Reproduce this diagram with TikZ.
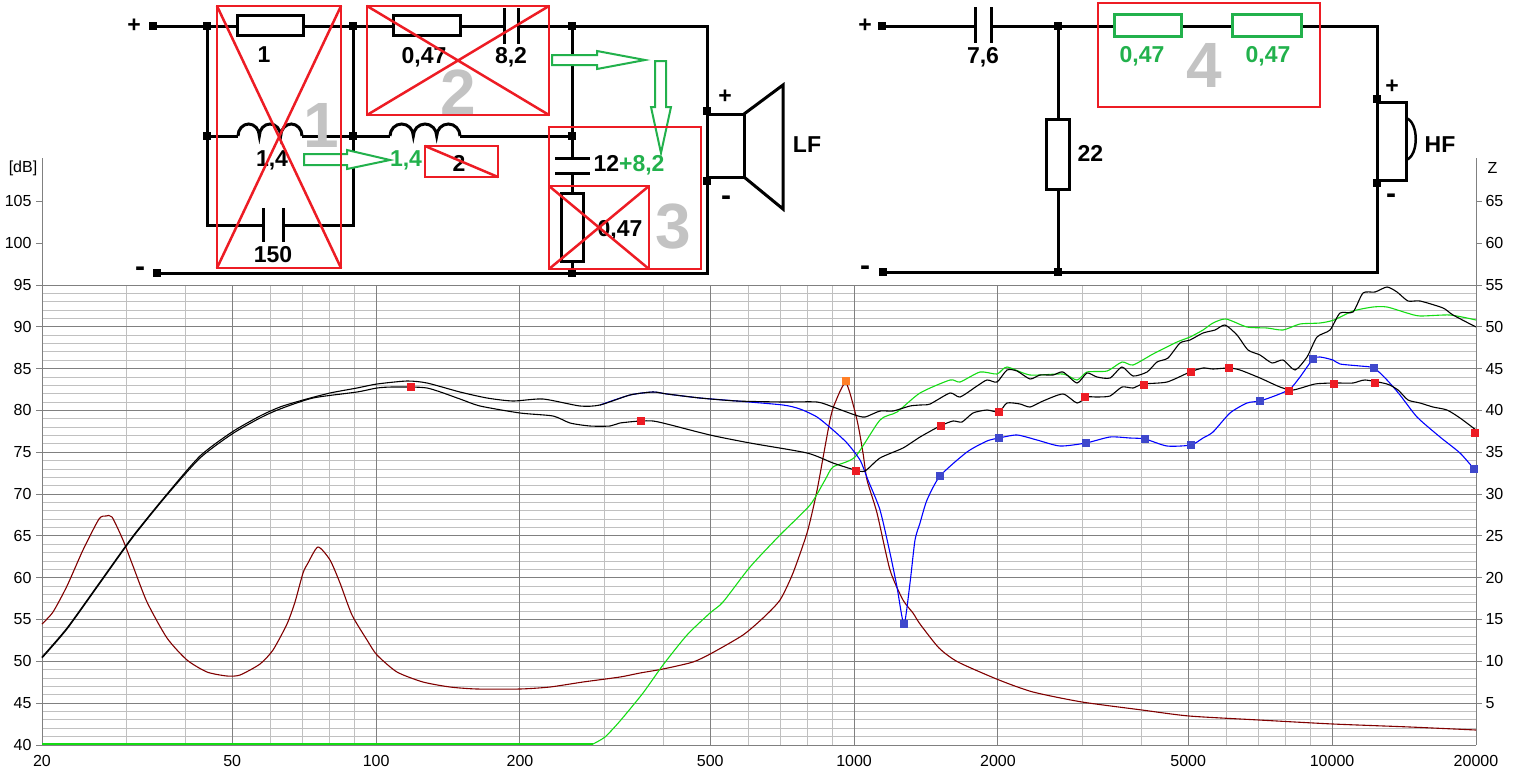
\documentclass[tikz,border=0pt]{standalone}
\usepackage{fontspec}
\setmainfont{Liberation Sans}
\definecolor{grn}{RGB}{34,177,76}
\definecolor{spl}{RGB}{20,220,20}
\definecolor{imp}{RGB}{128,0,0}
\definecolor{xred}{RGB}{237,28,36}
\definecolor{mkblue}{RGB}{63,72,204}
\definecolor{mkorange}{RGB}{255,127,39}
\definecolor{gridlight}{RGB}{192,192,192}
\definecolor{griddark}{RGB}{128,128,128}
\definecolor{numgray}{RGB}{195,195,195}
\newcommand\junc[1]{\fill (#1) +(-4,-4) rectangle +(4,4);}
\newcommand\sqmarks[2]{\foreach \x/\y in {#2} {\fill[#1] (\x-4,\y-4) rectangle ++(8,8);}}
\begin{document}
\begin{tikzpicture}[x=1pt, y=-1pt,
  wire/.style={line width=3pt},
  comp/.style={draw, line width=3pt, fill=white, inner sep=0pt},
  val/.style={font=\fontsize{23}{23}\selectfont\bfseries},
  neg/.style={font=\fontsize{30}{30}\selectfont\bfseries},
  bignum/.style={font=\fontsize{64}{64}\selectfont\bfseries, text=numgray},
  tick/.style={font=\fontsize{16}{16}\selectfont},
  cut/.style={draw=xred, line width=1.2pt},
  cross/.style={xred, line width=2.5pt},
  hollow/.style={draw=grn, line width=2pt, fill=white},
  minor/.style={gridlight, line width=1pt},
  major/.style={griddark, line width=1pt},
  curve/.style={line width=1.1pt, smooth, tension=0.4}]
\useasboundingbox (0,0) rectangle (1513,774);

\foreach \i in {1,...,54}
  \draw[minor] (42,{745-\i*8.3636}) -- (1476,{745-\i*8.3636});
\foreach \f in {30,40,60,70,80,90,300,400,600,700,800,900,3000,4000,6000,7000,8000,9000}
  \draw[minor] ({42+478*log10(\f/20)},285) -- ++(0,460);
\foreach \i in {0,5,...,55}
  \draw[major] (42,{745-\i*8.3636}) -- (1476,{745-\i*8.3636});
\foreach \f in {50,100,200,500,1000,2000,5000,10000}
  \draw[major] ({42+478*log10(\f/20)},285) -- ++(0,460);
\draw[major] (42,158) -- (42,745) (1476,158) -- (1476,745);

\foreach \v [count=\i from 0] in {40,45,...,105} {
  \draw[major] (36,{745-\i*41.818}) -- ++(6,0);
  \node[tick, anchor=east] (db\v) at (35,{745-\i*41.818}) {\v};
}
\foreach \v in {5,10,...,65} {
  \draw[major] (1476,{745-\v*8.3636}) -- ++(6,0);
  \node[tick, anchor=west] (z\v) at (1482,{745-\v*8.3636}) {\v};
}
\node[tick] (dbunit) at (23,168) {[dB]};
\node[tick, anchor=west] (zunit) at (1484,168) {Z};
\foreach \f/\k in {20/1,50/2.5,100/5,200/10,500/25,1000/50,2000/100,5000/250,10000/500,20000/1000}
  \node[tick] (f\f) at ({42+478*log10(\k)},761) {\f};

\draw[imp, curve] plot coordinates {(42,624) (53,612) (67,586) (83,550) (99,519) (106,516) (112,517) (123,540) (133,566) (147,602) (167,638) (187,660) (207,672) (227,676) (240,675) (260,664) (273,650) (287,624) (295,602) (303,573) (308,563) (318,547) (330,560) (340,583) (352,615) (367,640) (377,655) (397,672) (423,682) (450,687) (477,689) (520,689) (550,687) (583,682) (620,677) (640,673) (663,669) (693,662) (712,653) (743,635) (763,618) (780,600) (793,573) (807,533) (815,500) (819,480) (830,420) (835,403) (846,383) (857,420) (863,453) (867,480) (877,513) (890,570) (903,600) (913,613) (920,624) (939,648) (958,662) (999,680) (1033,692) (1082,702) (1142,710) (1189,716) (1259,720) (1333,724) (1410,727) (1476,730)};
\draw[spl, line width=1.3pt] (42,744) -- (593,744);
\draw[spl, curve] plot coordinates {(593,744) (605,737) (620,721) (643,693) (663,665) (687,635) (710,613) (723,602) (750,567) (780,535) (810,505) (825,480) (833,467) (855,457) (880,420) (897,412) (920,393) (950,380) (960,382) (980,372) (997,374) (1007,367) (1030,375) (1063,374) (1077,380) (1087,372) (1107,371) (1122,362) (1133,365) (1153,354) (1177,342) (1190,337) (1203,330) (1213,323) (1226,319) (1247,327) (1267,328) (1283,330) (1300,324) (1320,323) (1334,320) (1353,311) (1373,307) (1387,307) (1407,313) (1420,316) (1450,315) (1476,320)};
\draw[blue, curve] plot coordinates {(600,405) (630,395) (653,392) (667,394) (700,398) (737,401) (783,405) (800,409) (817,417) (833,430) (847,443) (860,460) (868,480) (880,510) (890,553) (897,587) (904,624) (910,583) (915,540) (920,523) (927,500) (940,476) (967,452) (987,441) (999,438) (1017,435) (1037,440) (1060,446) (1086,443) (1110,437) (1130,438) (1145,439) (1167,446) (1191,445) (1203,438) (1213,432) (1230,413) (1247,403) (1260,401) (1277,395) (1290,389) (1300,377) (1313,359) (1320,357) (1333,360) (1340,364) (1360,366) (1374,368) (1387,380) (1400,395) (1417,417) (1440,437) (1460,453) (1474,469)};
\draw[black, curve] plot coordinates {(42,658) (67,629) (100,583) (133,537) (167,495) (200,458) (232,434) (260,418) (280,409) (313,398) (357,392) (377,388) (393,387) (427,388) (460,399) (480,406) (520,413) (553,416) (570,423) (590,426) (610,426) (620,423) (640,421) (653,421) (667,424) (710,435) (750,443) (807,453) (833,463) (855,470) (865,471) (880,458) (903,448) (920,437) (940,426) (953,421) (962,422) (973,413) (987,410) (999,412) (1007,403) (1020,404) (1030,407) (1043,401) (1063,394) (1077,403) (1087,397) (1097,397) (1110,396) (1122,387) (1133,388) (1143,384) (1167,382) (1190,372) (1203,368) (1213,369) (1229,368) (1240,370) (1260,378) (1280,387) (1293,390) (1315,384) (1334,383) (1353,383) (1365,380) (1387,384) (1398,390) (1408,400) (1420,403) (1433,407) (1447,410) (1460,418) (1476,430)};
\draw[black, curve] plot coordinates {(42,657) (67,628) (100,582) (133,536) (167,494) (200,456) (232,432) (260,416) (280,407) (303,400) (330,393) (357,388) (377,384) (407,381) (427,383) (460,392) (487,398) (513,401) (543,399) (580,406) (600,405) (630,395) (653,392) (667,394) (700,398) (737,401) (783,402) (817,402) (833,407) (855,415) (865,417) (880,411) (893,411) (910,406) (920,405) (930,404) (950,393) (960,397) (977,386) (987,380) (997,382) (1007,370) (1017,371) (1030,379) (1040,375) (1053,375) (1063,372) (1077,383) (1087,373) (1097,377) (1110,378) (1122,367) (1133,376) (1147,372) (1157,362) (1168,358) (1180,343) (1190,340) (1203,333) (1215,330) (1225,325) (1237,335) (1248,350) (1260,355) (1272,363) (1283,360) (1295,370) (1307,357) (1317,337) (1330,330) (1340,313) (1353,312) (1363,293) (1375,292) (1387,287) (1397,292) (1408,301) (1420,301) (1443,308) (1453,315) (1476,327)};
\sqmarks{xred}{411/387, 641/421, 856/471, 941/426, 999/412, 1085/397, 1144/385, 1191/372, 1229/368, 1289/391, 1334/384, 1375/383, 1475/433}
\sqmarks{mkorange}{846/381}
\sqmarks{mkblue}{904/624, 940/476, 999/438, 1086/443, 1145/439, 1191/445, 1260/401, 1313/359, 1374/368, 1474/469}

\coordinate (pin) at (153,26);
\coordinate (nin) at (157,273);
\coordinate (ja) at (207,26);
\coordinate (jb) at (353,26);
\coordinate (jc) at (572,26);
\coordinate (jd) at (707,26);
\coordinate (ma) at (207,136);
\coordinate (mb) at (353,136);
\coordinate (mc) at (572,136);
\coordinate (la) at (207,225);
\coordinate (lb) at (353,225);
\coordinate (nc) at (572,273);
\coordinate (nd) at (707,273);
\coordinate (lfp) at (707,111);
\coordinate (lfm) at (707,181);
\coordinate (ca) at (504,26);
\coordinate (cb) at (518,26);
\coordinate (cc) at (263,225);
\coordinate (cd) at (283,225);
\coordinate (ce) at (572,158);
\coordinate (cf) at (572,173);
\coordinate (l1a) at (238,136);
\coordinate (l1b) at (302,136);
\coordinate (l2a) at (390,136);
\coordinate (l2b) at (460,136);

\draw[wire] (pin) -- (ca) (cb) -- (jd) -- (nd) -- (nin);
\draw[wire] (ja) -- (la) -- (cc) (cd) -- (lb) -- (jb);
\draw[wire] (ma) -- (l1a) (l1b) -- (l2a) (l2b) -- (mc);
\draw[wire] (l1a) arc[start angle=180, end angle=360, x radius=10.67, y radius=12]
  arc[start angle=180, end angle=360, x radius=10.67, y radius=12]
  arc[start angle=180, end angle=360, x radius=10.67, y radius=12];
\draw[wire] (l2a) arc[start angle=180, end angle=360, x radius=11.67, y radius=12]
  arc[start angle=180, end angle=360, x radius=11.67, y radius=12]
  arc[start angle=180, end angle=360, x radius=11.67, y radius=12];
\draw[wire] (jc) -- (ce) (cf) -- (nc);
\draw[wire] (504,8) -- (504,44) (518,8) -- (518,44);
\draw[wire] (263,208) -- (263,242) (283,208) -- (283,242);
\draw[wire] (555,158) -- (590,158) (555,173) -- (590,173);
\node[comp, minimum width=66pt, minimum height=20pt] (r1) at (270.5,25.5) {};
\node[comp, minimum width=67pt, minimum height=20pt] (r047) at (427,25.5) {};
\node[comp, minimum width=22pt, minimum height=68pt] (rsh) at (572.5,227.5) {};
\draw[wire] (707,114) -- (744,114) -- (744,177) -- (707,177);
\draw[wire] (744,114) -- (783,85) -- (783,209) -- (744,177);
\foreach \p in {pin,nin,ja,jb,jc,ma,mb,mc,nc,lfp,lfm} {\junc{\p}}

\node[val] (pinlbl) at (134,26) {+};
\node[neg] (ninlbl) at (140,272) {-};
\node[val] (r1lbl) at (264,55) {1};
\node[val] (l1lbl) at (272,160) {1,4};
\node[val] (c150lbl) at (273,255) {150};
\node[val] (r047lbl) at (424,57) {0,47};
\node[val] (c82lbl) at (511,57) {8,2};
\node[val] (l2lbl) at (459,163) {2};
\node[val, text=grn] (l2new) at (406,160) {1,4};
\node[val, anchor=west] (c12lbl) at (590,165) {12\textcolor{grn}{+8,2}};
\node[val] (rshlbl) at (620,230) {0,47};
\node[val] (lfplbl) at (725,97) {+};
\node[neg] (lfmlbl) at (726,201) {-};
\node[val] (lflbl) at (807,145) {LF};

\node[bignum] (n1) at (321,125) {1};
\node[bignum] (n2) at (458,92) {2};
\node[bignum] (n3) at (673,227) {3};
\node[bignum] (n4) at (1204,65) {4};

\draw[hollow] (304,154) -- (347,154) -- (347,150) -- (390,160) -- (347,169) -- (347,165) -- (304,165) -- cycle;
\draw[hollow] (552,55) -- (597,55) -- (597,51) -- (645,60) -- (597,69) -- (597,65) -- (552,65) -- cycle;
\draw[hollow] (655,61) -- (655,107) -- (651,107) -- (661,153) -- (671,107) -- (666,107) -- (666,61) -- cycle;

\draw[cut] (217,6) rectangle (341,268);
\draw[cross] (217,6) -- (341,268) (341,6) -- (217,268);
\draw[cut] (367,6) rectangle (549,115);
\draw[cross] (367,6) -- (549,115) (549,6) -- (367,115);
\draw[cut] (549,127) rectangle (701,269);
\draw[cut] (549,186) rectangle (649,269);
\draw[cross] (549,186) -- (649,269) (649,186) -- (549,269);
\draw[cut] (425,146) rectangle (498,177);
\draw[cross] (425,146) -- (498,177);

\coordinate (hpin) at (882,26);
\coordinate (hnin) at (883,272);
\coordinate (ea) at (1058,26);
\coordinate (eb) at (1058,272);
\coordinate (fa) at (1377,26);
\coordinate (fb) at (1377,272);
\coordinate (hfp) at (1377,99);
\coordinate (hfm) at (1377,183);
\coordinate (c76a) at (975,26);
\coordinate (c76b) at (991,26);

\draw[wire] (hpin) -- (c76a) (c76b) -- (fa) -- (fb) -- (hnin);
\draw[wire] (ea) -- (eb);
\draw[wire] (975,7) -- (975,43) (991,7) -- (991,43);
\node[comp, minimum width=23pt, minimum height=70pt] (r22) at (1057.5,154.5) {};
\node[comp, draw=grn, minimum width=67pt, minimum height=22pt] (rg1) at (1148,25.5) {};
\node[comp, draw=grn, minimum width=69pt, minimum height=22pt] (rg2) at (1267,25.5) {};
\draw[wire] (1377,102) rectangle (1406,180);
\draw[line width=2.5pt] (1406,118) .. controls (1419,122) and (1419,156) .. (1406,160);
\foreach \p in {hpin,hnin,ea,eb,hfp,hfm} {\junc{\p}}

\node[val] (hpinlbl) at (865,26) {+};
\node[neg] (hninlbl) at (865,271) {-};
\node[val] (c76lbl) at (983,57) {7,6};
\node[val, anchor=west] (r22lbl) at (1074,153) {22};
\node[val, text=grn] (rg1lbl) at (1142,56) {0,47};
\node[val, text=grn] (rg2lbl) at (1268,56) {0,47};
\node[val] (hfplbl) at (1392,87) {+};
\node[neg] (hfmlbl) at (1391,199) {-};
\node[val] (hflbl) at (1440,145) {HF};
\draw[cut] (1098,3) rectangle (1320,107);
\end{tikzpicture}
\end{document}
